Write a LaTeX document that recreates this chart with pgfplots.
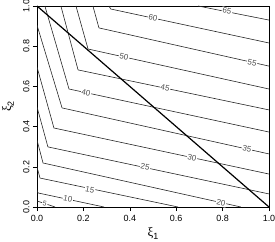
\documentclass[border=0pt]{standalone}
\usepackage{fontspec}
\setmainfont{Liberation Sans}
\newfontfamily\greek{Liberation Serif}
\usepackage{pgfplots}
\pgfplotsset{compat=1.18}
\tikzset{
  cont/.style={black!85, line width=0.6bp},
  lab/.style={font=\fontsize{8}{9}\selectfont, text=black!70, fill=white, inner sep=0.8pt, rotate=-12},
}
\begin{document}
\begin{tikzpicture}
\begin{axis}[
  width=232bp, height=201bp, scale only axis,
  xmin=0, xmax=1, ymin=0, ymax=1,
  xtick={0,0.2,0.4,0.6,0.8,1}, ytick={0,0.2,0.4,0.6,0.8,1},
  xticklabels={0.0,0.2,0.4,0.6,0.8,1.0},
  yticklabels={0.0,0.2,0.4,0.6,0.8,1.0},
  tick align=outside, xtick pos=bottom, ytick pos=left,
  major tick length=4bp,
  tick style={black, line width=0.5pt},
  axis line style={black, line width=0.6pt},
  ticklabel style={font=\fontsize{9}{10}\selectfont},
  xticklabel style={yshift=-1bp},
  yticklabel style={rotate=90},
  xlabel={{\greek ξ}\raisebox{-0.4ex}{\fontsize{9}{10}\selectfont 1}},
  ylabel={{\greek ξ}\raisebox{-0.4ex}{\fontsize{9}{10}\selectfont 2}},
  xlabel style={font=\fontsize{13}{14}\selectfont, at={(axis description cs:0.5,-0.13)}, anchor=center},
  ylabel style={font=\fontsize{13}{14}\selectfont, at={(axis description cs:-0.125,0.5)}, anchor=center},
]
\addplot[cont] coordinates {(0.694,1.000) (1.0,0.930)};
\addplot[cont] coordinates {(0.310,1.0) (0.318,0.985) (1,0.816)};
\addplot[cont] coordinates {(0.241,1.0) (0.267,0.891) (1,0.701)};
\addplot[cont] coordinates {(0.168,1.0) (0.220,0.786) (1,0.587)};
\addplot[cont] coordinates {(0.103,1.0) (0.177,0.682) (1,0.483)};
\addplot[cont] coordinates {(0.034,1.0) (0.138,0.587) (1,0.373)};
\addplot[cont] coordinates {(0,0.905) (0.108,0.493) (1,0.264)};
\addplot[cont] coordinates {(0,0.697) (0.073,0.393) (1,0.164)};
\addplot[cont] coordinates {(0,0.498) (0.047,0.299) (1,0.065)};
\addplot[cont] coordinates {(0,0.333) (0.026,0.219) (0.879,0)};
\addplot[cont] coordinates {(0,0.199) (0.013,0.144) (0.608,0)};
\addplot[cont] coordinates {(0,0.085) (0.004,0.070) (0.289,0)};
\addplot[cont] coordinates {(0,0.030) (0.078,0)};
\node[lab] at (axis cs:0.819,0.975) {65};
\node[lab] at (axis cs:0.500,0.940) {60};
\node[lab] at (axis cs:0.927,0.716) {55};
\node[lab] at (axis cs:0.375,0.746) {50};
\node[lab] at (axis cs:0.552,0.592) {45};
\node[lab] at (axis cs:0.211,0.567) {40};
\node[lab] at (axis cs:0.905,0.289) {35};
\node[lab] at (axis cs:0.668,0.244) {30};
\node[lab] at (axis cs:0.466,0.199) {25};
\node[lab] at (axis cs:0.793,0.020) {20};
\node[lab] at (axis cs:0.228,0.085) {15};
\node[lab] at (axis cs:0.133,0.040) {10};
\node[lab, font=\fontsize{7}{8}\selectfont] at (axis cs:0.034,0.018) {5};
\addplot[black, line width=1.2bp] coordinates {(0,1) (1,0)};
\end{axis}
\pgfresetboundingbox
\path ([shift={(-37bp,-35bp)}]current axis.south west) rectangle ([shift={(6bp,6bp)}]current axis.north east);
\end{tikzpicture}
\end{document}
